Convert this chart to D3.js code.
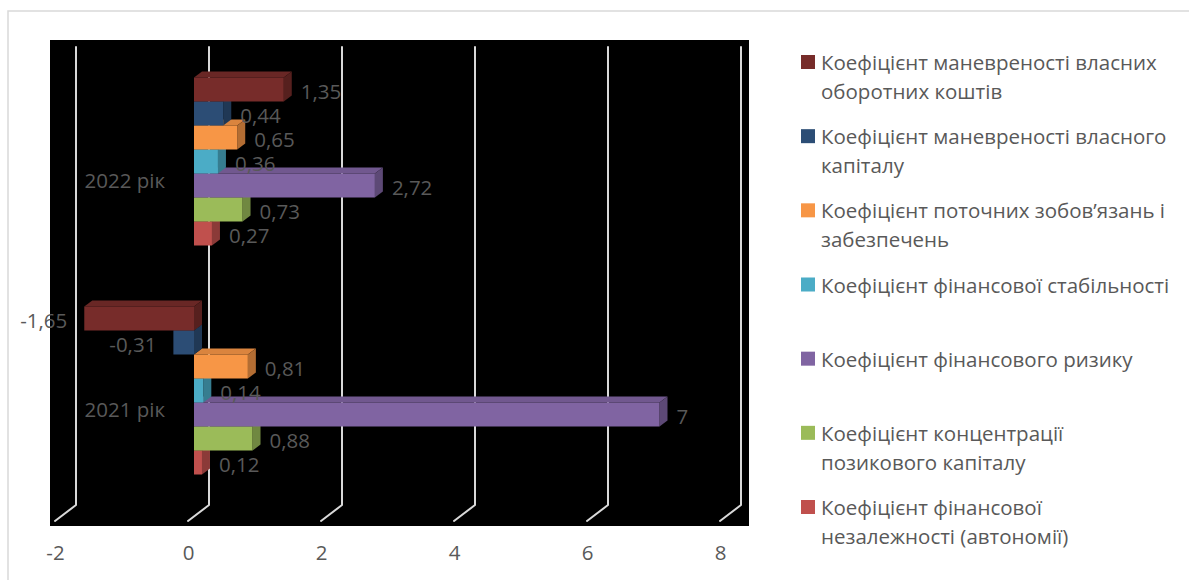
<!DOCTYPE html>
<html><head><meta charset="utf-8">
<script src="https://cdn.jsdelivr.net/npm/d3@7"></script>
<style>html,body{margin:0;padding:0;background:#fff;}svg{display:block;}</style>
</head><body>
<script>
const categories = ["2022 рік", "2021 рік"];
const seriesNames = [
  "Коефіцієнт маневреності власних оборотних коштів",
  "Коефіцієнт маневреності власного капіталу",
  "Коефіцієнт поточних зобов’язань і забезпечень",
  "Коефіцієнт фінансової стабільності",
  "Коефіцієнт фінансового ризику",
  "Коефіцієнт концентрації позикового капіталу",
  "Коефіцієнт фінансової незалежності (автономії)"
];
const legendLines = [
  ["Коефіцієнт маневреності власних", "оборотних коштів"],
  ["Коефіцієнт маневреності власного", "капіталу"],
  ["Коефіцієнт поточних зобов’язань і", "забезпечень"],
  ["Коефіцієнт фінансової стабільності"],
  ["Коефіцієнт фінансового ризику"],
  ["Коефіцієнт концентрації", "позикового капіталу"],
  ["Коефіцієнт фінансової", "незалежності (автономії)"]
];
const values2022 = [1.35, 0.44, 0.65, 0.36, 2.72, 0.73, 0.27];
const values2021 = [-1.65, -0.31, 0.81, 0.14, 7, 0.88, 0.12];
const seriesColors = ["#772C2A", "#2C4D75", "#F79646", "#4BACC6", "#8064A2", "#9BBB59", "#C0504D"];
const xTicks = [-2, 0, 2, 4, 6, 8];

const W = 1189, H = 580;
const FONT = "'Open Sans', sans-serif";
const FS = 20.5;
const TXT = "#595959";
const svg = d3.select("body").append("svg").attr("width", W).attr("height", H);
svg.append("rect").attr("width", W).attr("height", H).attr("fill", "#fff");

// outer border (top & left visible)
svg.append("path").attr("d", `M8,${H} L8,11 L${W},11`).attr("fill", "none").attr("stroke", "#d9d9d9").attr("stroke-width", 1.5);

// plot area
svg.append("rect").attr("x", 50).attr("y", 40).attr("width", 699).attr("height", 486).attr("fill", "#000");

const x = d3.scaleLinear().domain([-2, 8]).range([55, 720]);
const wallDx = 21, wallTop = 47, wallBot = 505, floorY = 521;
const barOff = 6, dDx = 8, dDy = -6;

// gridlines (back wall + floor)
svg.append("g").selectAll("path").data(xTicks).join("path")
  .attr("d", d => `M${x(d) + wallDx},${wallTop} L${x(d) + wallDx},${wallBot} L${x(d)},${floorY}`)
  .attr("fill", "none").attr("stroke", "#d9d9d9").attr("stroke-width", 2).attr("stroke-linejoin", "round").attr("stroke-linecap", "round");

// axis labels
const axis = d3.axisBottom(x).tickValues(xTicks).tickSize(0).tickPadding(0).tickFormat(d => String(d));
const ag = svg.append("g").attr("transform", `translate(0,552)`).call(axis);
ag.select(".domain").remove();
ag.selectAll("text").attr("font-family", FONT).attr("font-size", FS).attr("fill", TXT).attr("dy", null).attr("dominant-baseline", "central").attr("y", 0);

const y0 = d3.scaleBand().domain(categories).range([wallTop, wallBot]);
const groupH = 168;
const y1 = d3.scaleBand().domain(d3.range(seriesNames.length)).range([0, groupH]);

const rows = [];
categories.forEach((c, ci) => {
  const vals = ci === 0 ? values2022 : values2021;
  vals.forEach((v, si) => rows.push({ c, si, v }));
});
const bx = v => x(v) + barOff;
const darker = (col, k) => d3.color(col).darker(k).formatHex();

// draw from bottom to top so upper bars cover lower bars' top faces
const drawOrder = rows.slice().sort((a, b) => (b.si - a.si));
const bars = svg.append("g");
drawOrder.forEach(r => {
  const yTop = y0(r.c) + (y0.bandwidth() - groupH) / 2 + y1(r.si);
  const h = y1.bandwidth();
  const xa = Math.min(bx(0), bx(r.v)), xb = Math.max(bx(0), bx(r.v));
  const g = bars.append("g");
  g.append("path").attr("d", `M${xa},${yTop} L${xb},${yTop} L${xb + dDx},${yTop + dDy} L${xa + dDx},${yTop + dDy}Z`)
    .attr("fill", darker(seriesColors[r.si], 0.35));
  g.append("path").attr("d", `M${xb},${yTop} L${xb + dDx},${yTop + dDy} L${xb + dDx},${yTop + h + dDy} L${xb},${yTop + h}Z`)
    .attr("fill", darker(seriesColors[r.si], 0.9));
  g.append("rect").attr("x", xa).attr("y", yTop).attr("width", xb - xa).attr("height", h).attr("fill", seriesColors[r.si]);
});

// value labels
svg.append("g").selectAll("text").data(rows).join("text")
  .attr("x", d => d.v >= 0 ? bx(d.v) + 17 : bx(d.v) - 17)
  .attr("y", d => y0(d.c) + (y0.bandwidth() - groupH) / 2 + y1(d.si) + y1.bandwidth() / 2 + 1)
  .attr("text-anchor", d => d.v >= 0 ? "start" : "end")
  .attr("dominant-baseline", "central")
  .attr("font-family", FONT).attr("font-size", FS).attr("fill", TXT)
  .text(d => String(d.v).replace(".", ","));

// category labels
svg.append("g").selectAll("text").data(categories).join("text")
  .attr("x", 165).attr("y", d => y0(d) + y0.bandwidth() / 2 + 18)
  .attr("text-anchor", "end").attr("dominant-baseline", "central")
  .attr("font-family", FONT).attr("font-size", FS).attr("fill", TXT)
  .text(d => d);

// legend
const lg = svg.append("g");
const legendY = d3.scaleLinear().domain([0, 6]).range([62, 507]);
legendLines.forEach((lines, i) => {
  const cy = legendY(i);
  lg.append("rect").attr("x", 801).attr("y", cy - 7).attr("width", 14).attr("height", 14).attr("fill", seriesColors[i]);
  const t = lg.append("text").attr("font-family", FONT).attr("font-size", FS).attr("fill", TXT);
  lines.forEach((ln, li) => {
    t.append("tspan").attr("x", 821).attr("y", cy + li * 29).attr("dominant-baseline", "central").text(ln);
  });
});
</script>
</body></html>
